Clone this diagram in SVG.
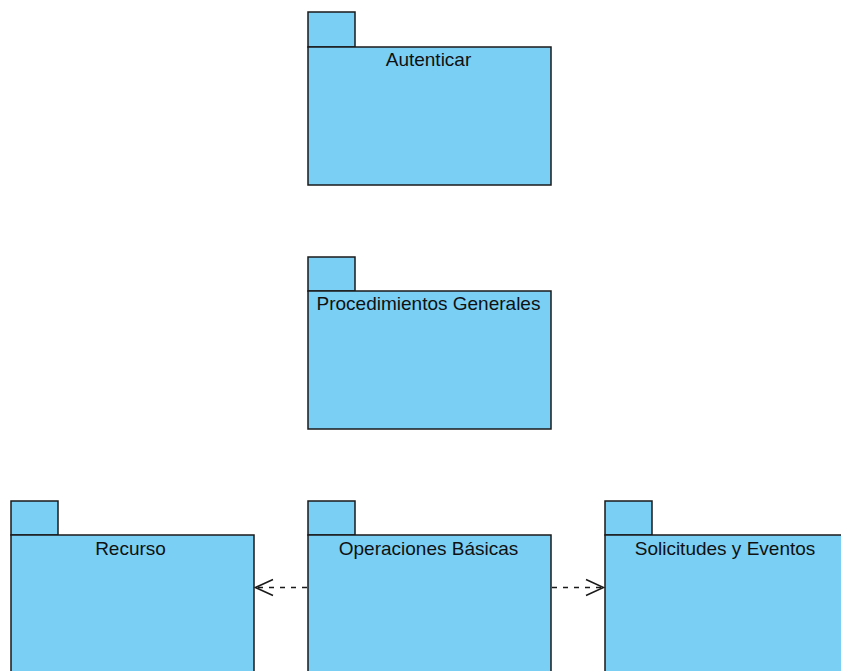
<svg xmlns="http://www.w3.org/2000/svg" width="841" height="671" viewBox="0 0 841 671">
<defs>
<style>
.pk{fill:#7ACFF5;stroke:#1a1a1a;stroke-width:1.5}
.lbl{font-family:"Liberation Sans",Arial,sans-serif;font-size:19px;fill:#111;text-anchor:middle}
.dep{stroke:#1a1a1a;stroke-width:1.5;fill:none;stroke-dasharray:5,6}
.head{stroke:#1a1a1a;stroke-width:1.5;fill:none}
</style>
</defs>
<rect width="841" height="671" fill="#fff"/>
<g id="autenticar">
<rect class="pk" x="308" y="12" width="47" height="35"/>
<rect class="pk" x="308" y="47" width="243" height="138"/>
<text class="lbl" x="428.5" y="66">Autenticar</text>
</g>
<g id="procedimientos">
<rect class="pk" x="308" y="257" width="47" height="34"/>
<rect class="pk" x="308" y="291" width="243" height="138"/>
<text class="lbl" x="428.5" y="310">Procedimientos Generales</text>
</g>
<g id="recurso">
<rect class="pk" x="11" y="501" width="47" height="34"/>
<rect class="pk" x="11" y="535" width="243" height="150"/>
<text class="lbl" x="130.5" y="555">Recurso</text>
</g>
<g id="operaciones">
<rect class="pk" x="308" y="501" width="47" height="34"/>
<rect class="pk" x="308" y="535" width="243" height="150"/>
<text class="lbl" x="428.5" y="555">Operaciones Básicas</text>
</g>
<g id="solicitudes">
<rect class="pk" x="605" y="501" width="47" height="34"/>
<rect class="pk" x="605" y="535" width="243" height="150"/>
<text class="lbl" x="725" y="555">Solicitudes y Eventos</text>
</g>
<g id="connectors">
<line class="dep" x1="307" y1="587.5" x2="256" y2="587.5"/>
<polyline class="head" points="273,579.5 255.5,587.5 273,595.5"/>
<line class="dep" x1="552" y1="587.5" x2="603" y2="587.5"/>
<polyline class="head" points="586,579.5 603.5,587.5 586,595.5"/>
</g>
</svg>
